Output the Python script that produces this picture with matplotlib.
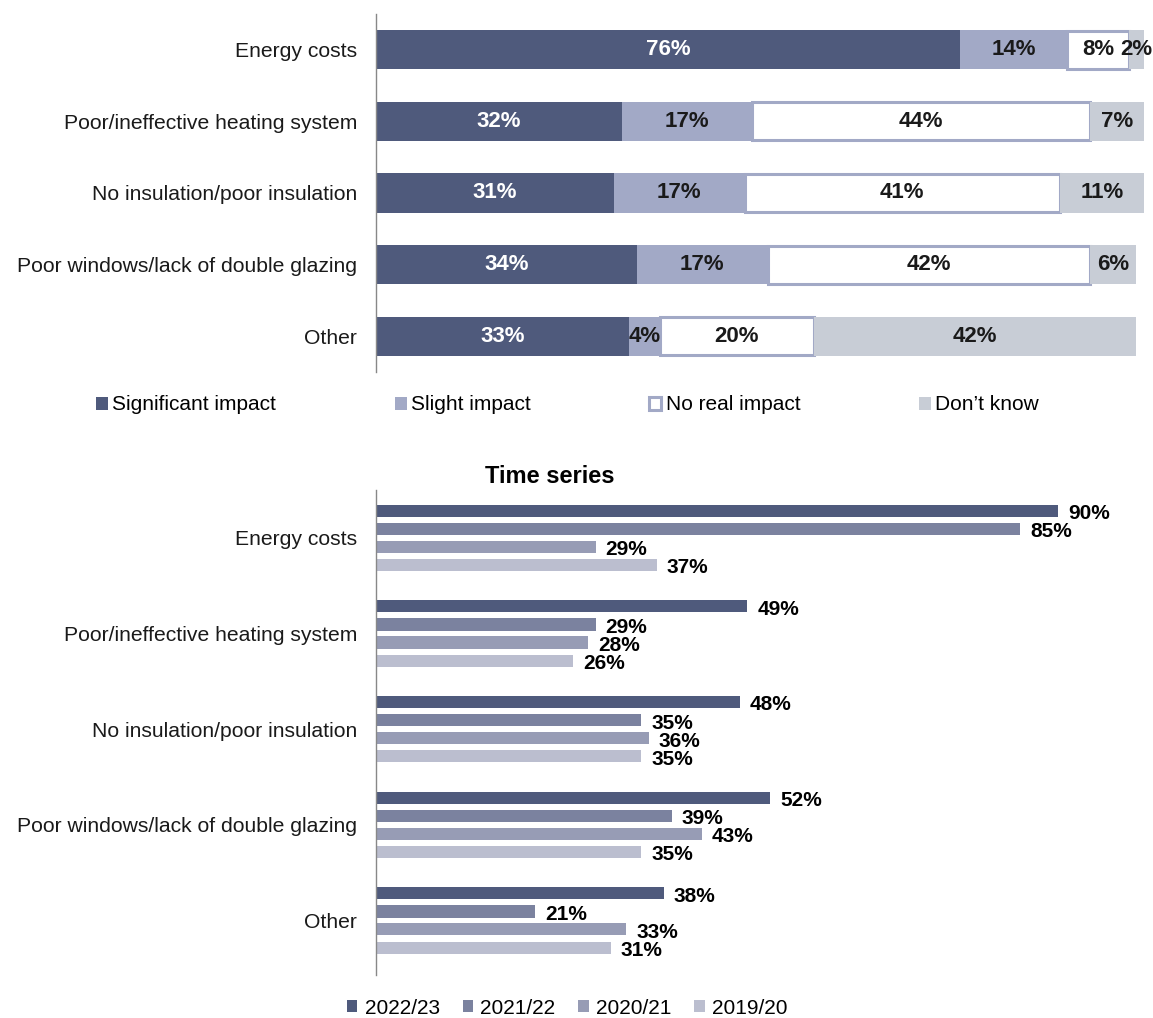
import matplotlib
matplotlib.use("Agg")
import matplotlib.pyplot as plt
import numpy as np

plt.rcParams['font.family'] = ['Liberation Sans', 'DejaVu Sans']

categories = ["Energy costs", "Poor/ineffective heating system",
              "No insulation/poor insulation", "Poor windows/lack of double glazing", "Other"]

# Impact breakdown (%)
impact_labels = ["Significant impact", "Slight impact", "No real impact", "Don\u2019t know"]
significant = [76, 32, 31, 34, 33]
slight = [14, 17, 17, 17, 4]
no_real = [8, 44, 41, 42, 20]
dont_know = [2, 7, 11, 6, 42]

# Time series (%)
years = ["2022/23", "2021/22", "2020/21", "2019/20"]
y2022 = [90, 49, 48, 52, 38]
y2021 = [85, 29, 35, 39, 21]
y2020 = [29, 28, 36, 43, 33]
y2019 = [37, 26, 35, 35, 31]

TXT = "#1a1a1a"
fig = plt.figure(figsize=(11.53, 10.18), dpi=100)

# ---------- stacked chart ----------
ax1 = fig.add_axes([376/1153, 1-372/1018, 768/1153, 358/1018])
stack_colors = ["#4F5A7C", "#A2A9C6", "#FFFFFF", "#C8CDD6"]
ypos = np.arange(len(categories))
left = np.zeros(len(categories))
series = [significant, slight, no_real, dont_know]
for i, (vals, col) in enumerate(zip(series, stack_colors)):
    vals = np.array(vals, dtype=float)
    if i == 2:
        ax1.barh(ypos, vals, left=left, height=0.53, color=col,
                 edgecolor="#A2A9C6", linewidth=2.2, label=impact_labels[i])
    else:
        ax1.barh(ypos, vals, left=left, height=0.55, color=col,
                 edgecolor="none", label=impact_labels[i])
    for y, v, l in zip(ypos, vals, left):
        ax1.text(l + v/2, y, f"{int(v)}%", ha="center", va="center",
                 fontsize=16, fontweight="bold",
                 color="white" if i == 0 else TXT)
    left += vals

ax1.set_xlim(0, 100)
ax1.set_ylim(4.5, -0.5)
ax1.set_yticks(ypos)
ax1.set_yticklabels(categories, fontsize=15.2, color=TXT)
ax1.tick_params(axis="y", length=0, pad=13.5)
ax1.set_xticks([])
for s in ["top", "right", "bottom"]:
    ax1.spines[s].set_visible(False)
ax1.spines["left"].set_color("#888888")
ax1.spines["left"].set_linewidth(1)

fig.legend(*ax1.get_legend_handles_labels(), loc="center",
           bbox_to_anchor=(0.492, 1-405/1018), ncol=4, frameon=False,
           fontsize=15, handlelength=0.58, handleheight=0.58,
           handletextpad=0.2, columnspacing=5.7)

# ---------- time series ----------
ax2 = fig.add_axes([376/1153, 1-975/1018, 768/1153, 485/1018])
ts_colors = ["#4F5A7C", "#7B829F", "#979CB5", "#BBBECF"]
ts = [y2022, y2021, y2020, y2019]
offsets = [-0.283, -0.094, 0.094, 0.283]
for vals, col, off, lab in zip(ts, ts_colors, offsets, years):
    ax2.barh(ypos + off, vals, height=0.126, color=col, edgecolor="none", label=lab)
    for y, v in zip(ypos + off, vals):
        ax2.text(v + 1.3, y + 0.03, f"{v}%", ha="left", va="center",
                 fontsize=15, fontweight="bold", color="black")

ax2.set_xlim(0, 101.3)
ax2.set_ylim(4.57, -0.5)
ax2.set_yticks(ypos)
ax2.set_yticklabels(categories, fontsize=15.2, color=TXT)
ax2.tick_params(axis="y", length=0, pad=13.5)
ax2.set_xticks([])
for s in ["top", "right", "bottom"]:
    ax2.spines[s].set_visible(False)
ax2.spines["left"].set_color("#888888")
ax2.spines["left"].set_linewidth(1)

fig.text(550/1153, 1-476/1018, "Time series", ha="center", va="center",
         fontsize=17, fontweight="bold", color="black")

fig.legend(*ax2.get_legend_handles_labels(), loc="center",
           bbox_to_anchor=(0.492, 1-1008/1018), ncol=4, frameon=False,
           fontsize=15, handlelength=0.5, handleheight=0.5,
           handletextpad=0.35, columnspacing=1.1)

fig.savefig("out.png", dpi=100)
